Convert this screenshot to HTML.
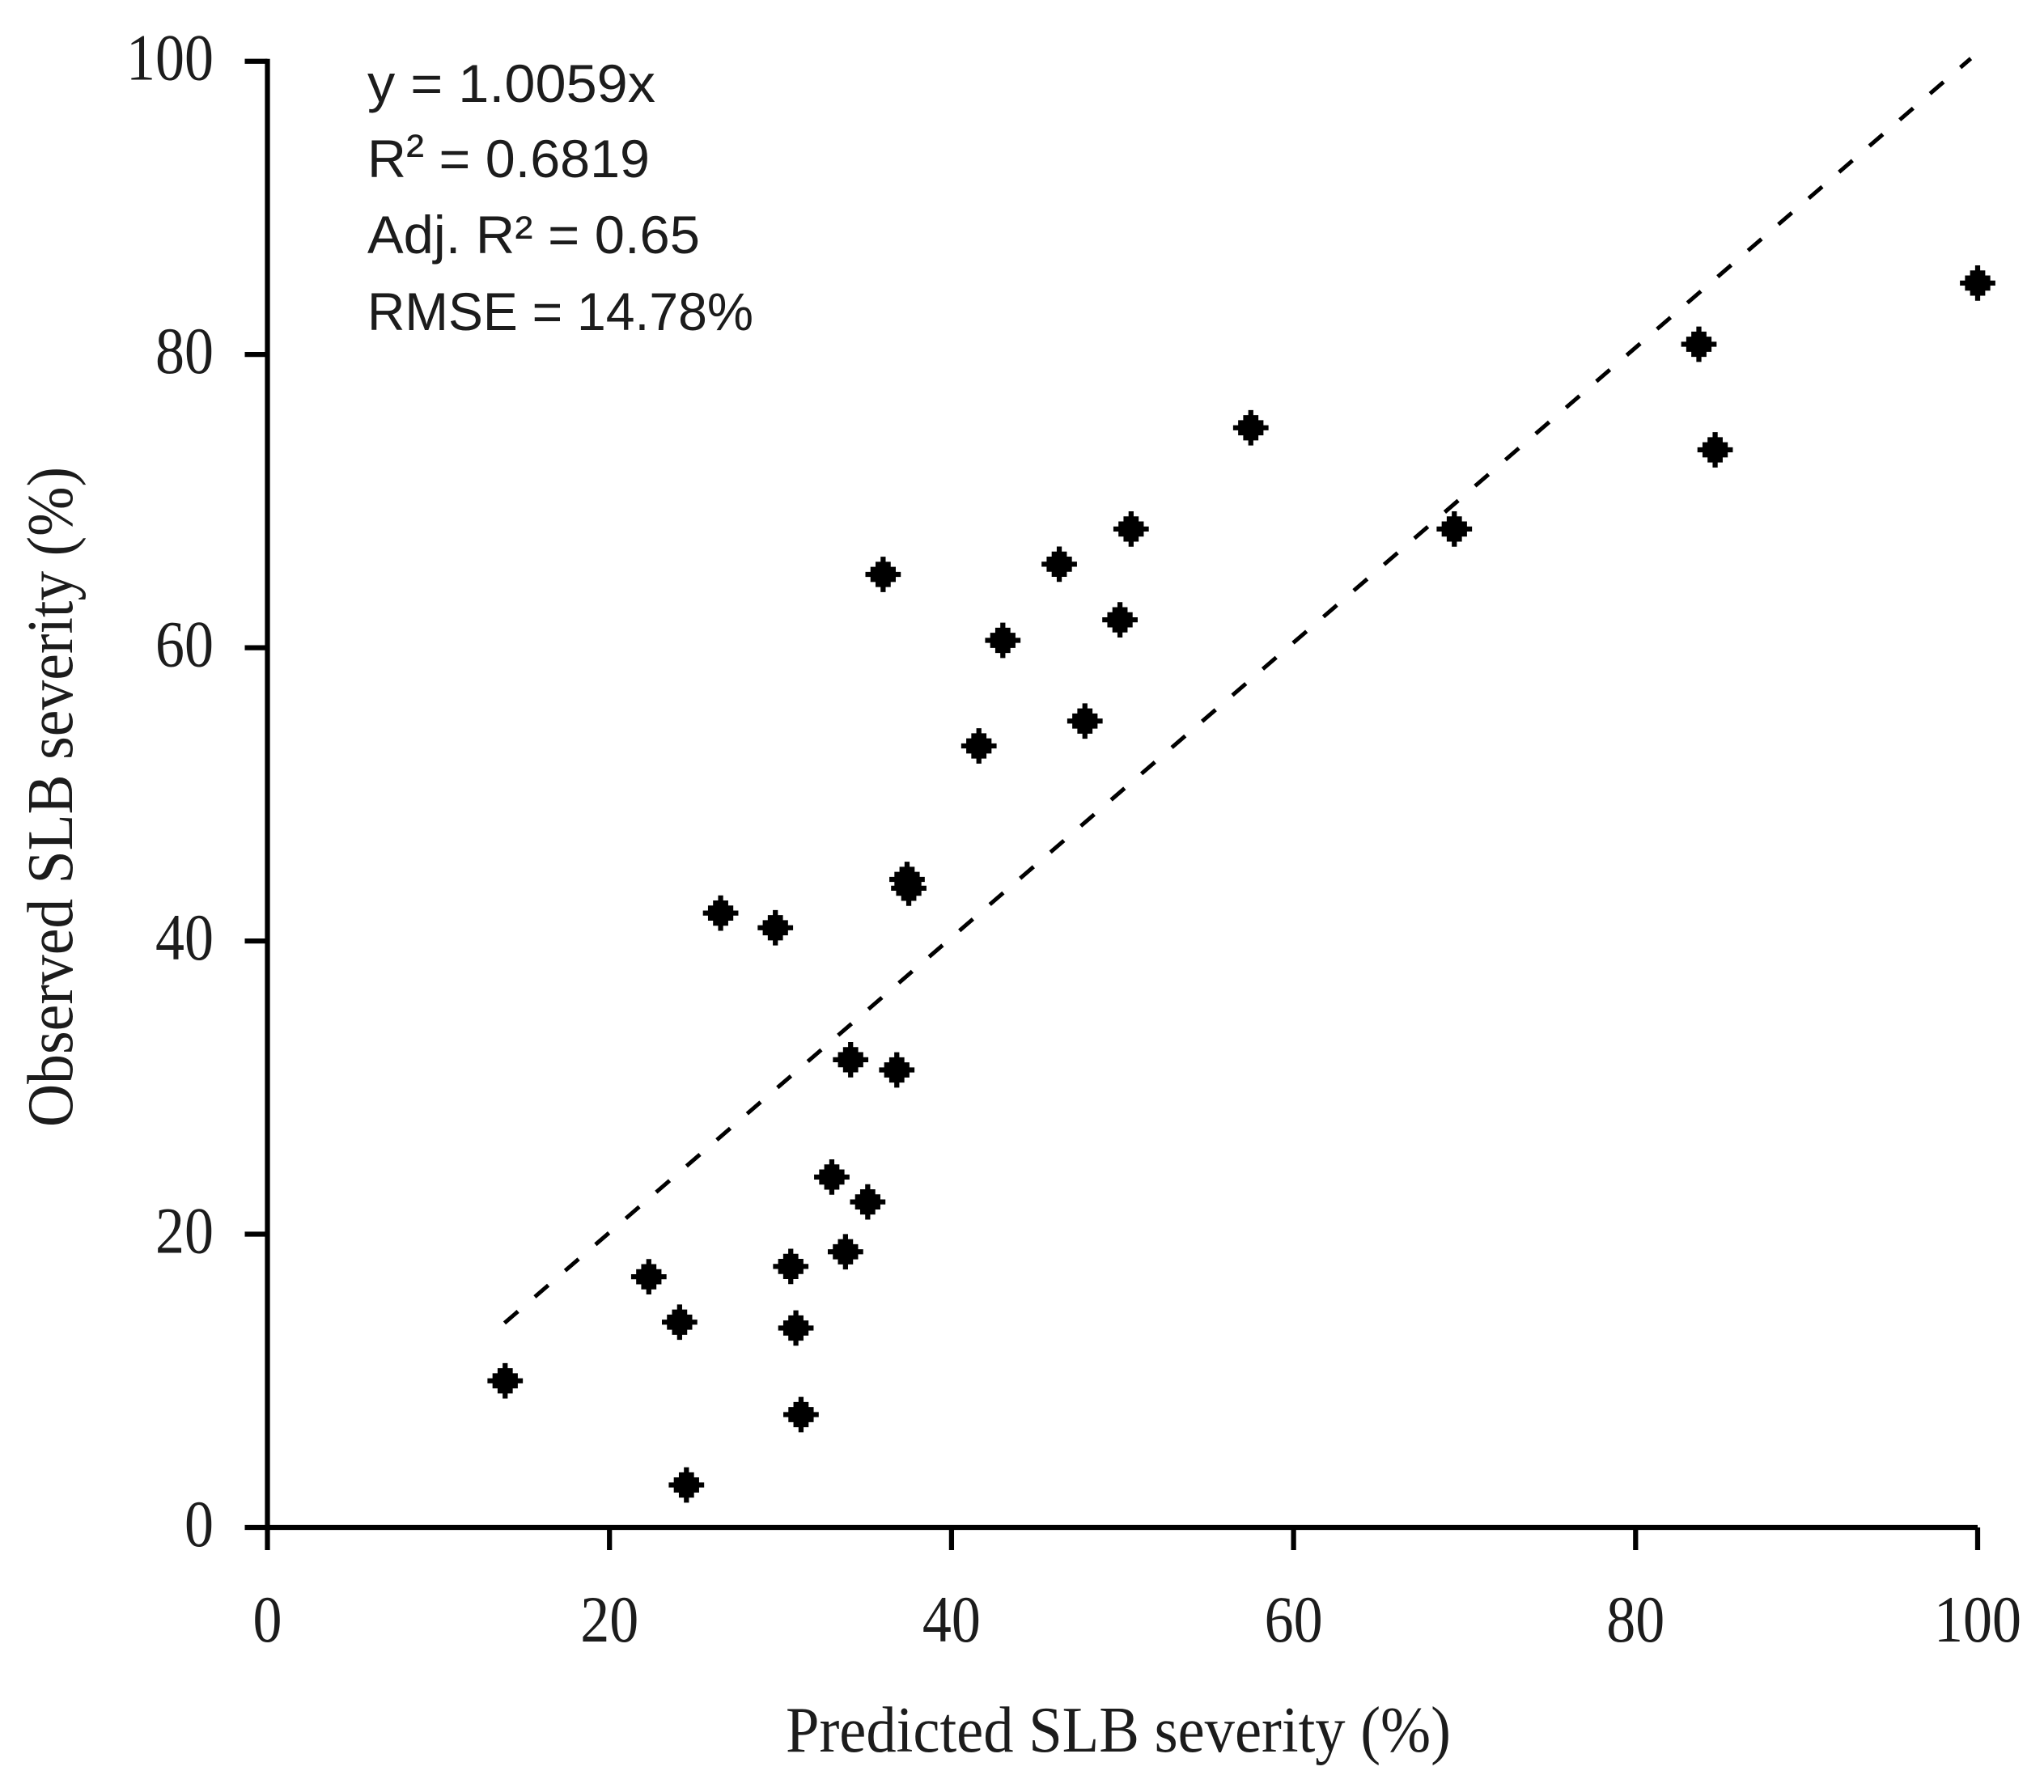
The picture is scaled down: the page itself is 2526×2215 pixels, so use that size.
<!DOCTYPE html>
<html>
<head>
<meta charset="utf-8">
<title>Observed vs predicted SLB severity</title>
<style>
html,body{margin:0;padding:0;background:#fff;}
svg{display:block;}
text{fill:#1c1c1c;}
.serif{font-family:"Liberation Serif",serif;}
.sans{font-family:"Liberation Sans",sans-serif;}
</style>
</head>
<body>
<svg id="chart" xmlns="http://www.w3.org/2000/svg" width="2526" height="2215" viewBox="0 0 2526 2215">
  <rect x="0" y="0" width="2526" height="2215" fill="#fff"/>
  <g id="trend"></g>
  <g id="axes"></g>
  <g id="points"></g>
  <g class="sans" font-size="66">
    <text x="454" y="126" textLength="356" lengthAdjust="spacingAndGlyphs">y = 1.0059x</text>
    <text x="454" y="219" textLength="349" lengthAdjust="spacingAndGlyphs">R<tspan dy="-7">²</tspan><tspan dy="7"> = 0.6819</tspan></text>
    <text x="454" y="313" textLength="411" lengthAdjust="spacingAndGlyphs">Adj. R² = 0.65</text>
    <text x="454" y="408" textLength="477" lengthAdjust="spacingAndGlyphs">RMSE = 14.78%</text>
  </g>
  <text class="serif" font-size="80" x="971" y="2165" textLength="822" lengthAdjust="spacingAndGlyphs">Predicted SLB severity (%)</text>
  <text class="serif" font-size="80" transform="translate(89,1393) rotate(-90)" x="0" y="0" textLength="816" lengthAdjust="spacingAndGlyphs">Observed SLB severity (%)</text>
</svg>
<script>
var predicted = [13.9,22.3,24.1,24.5,26.5,29.7,30.6,30.9,31.2,33.0,33.8,34.1,35.1,36.0,36.8,37.4,37.5,41.6,43.0,46.3,47.8,49.85,50.5,57.5,69.4,83.7,84.65,100];
var observed = [10.0,17.1,14.0,2.9,41.9,40.9,17.8,13.6,7.7,23.9,18.8,31.9,22.2,65.0,31.2,44.2,43.6,53.3,60.5,65.7,55.0,61.9,68.1,75.0,68.1,80.7,73.5,84.87];
var xTickValues = [0,20,40,60,80,100];
var yTickValues = [0,20,40,60,80,100];
var trendSlope = [1.0059];
var trendRange = [13.6,99.6];

var NS = 'http://www.w3.org/2000/svg';
var left = 330.5, right = 2444, top_ = 75.7, bottom = 1888;
function sx(v){ return left + (right-left)*v/100; }
function sy(v){ return bottom - (bottom-top_)*v/100; }
function make(parent, tag, attrs){
  var el = document.createElementNS(NS, tag);
  for (var k in attrs) el.setAttribute(k, attrs[k]);
  parent.appendChild(el);
  return el;
}
var axes = document.getElementById('axes');
var el;
el = make(axes,'line',{x1:left,y1:top_-3,x2:left,y2:bottom,stroke:'#000','stroke-width':6.25});


el = make(axes,'line',{x1:left-28,y1:bottom,x2:right,y2:bottom,stroke:'#000','stroke-width':6.25});



xTickValues.forEach(function(v){
  var t = make(axes,'line',{x1:sx(v),y1:bottom,x2:sx(v),y2:bottom+28,stroke:'#000','stroke-width':6.25});
  
  
  var s = String(v);
  var l = make(axes,'text',{x:sx(v),y:2029,'font-size':82,'text-anchor':'middle','class':'serif',textLength:s.length*36,lengthAdjust:'spacingAndGlyphs'});
  l.textContent = s;
  
  
});
yTickValues.forEach(function(v){
  if (v > 0) {
    var t = make(axes,'line',{x1:left-28,y1:sy(v),x2:left,y2:sy(v),stroke:'#000','stroke-width':6.25});
    
    
  }
  var s = String(v);
  var l = make(axes,'text',{x:264,y:sy(v)+23,'font-size':82,'text-anchor':'end','class':'serif',textLength:s.length*36,lengthAdjust:'spacingAndGlyphs'});
  l.textContent = s;
  
  
});

var trend = make(document.getElementById('trend'),'line',{
  x1:sx(trendRange[0]),y1:sy(trendRange[0]*trendSlope[0]),
  x2:sx(trendRange[1]),y2:sy(trendRange[1]*trendSlope[0]),
  stroke:'#000','stroke-width':5,'stroke-dasharray':'22 27.5','stroke-dashoffset':-7.3
});



function diamond(cx, cy){
  var b = 6.25;
  var x = cx - b/2, y = cy - 3.5*b;
  var d = 'M'+x+' '+y+' h'+b+' v'+b+' h'+b+' v'+b+' h'+b+' v'+b+' h'+b+' v'+b+' h-'+b+' v'+b+' h-'+b+' v'+b+' h-'+b+' v'+b+' h-'+b+' v-'+b+' h-'+b+' v-'+b+' h-'+b+' v-'+b+' h-'+b+' v-'+b+' h'+b+' v-'+b+' h'+b+' v-'+b+' h'+b+' Z';
  return d;
}
var pts = document.getElementById('points');
predicted.forEach(function(p,i){
  var m = make(pts,'path',{d:diamond(sx(p),sy(observed[i])),fill:'#000'});
  
  
});
</script>
</body>
</html>
